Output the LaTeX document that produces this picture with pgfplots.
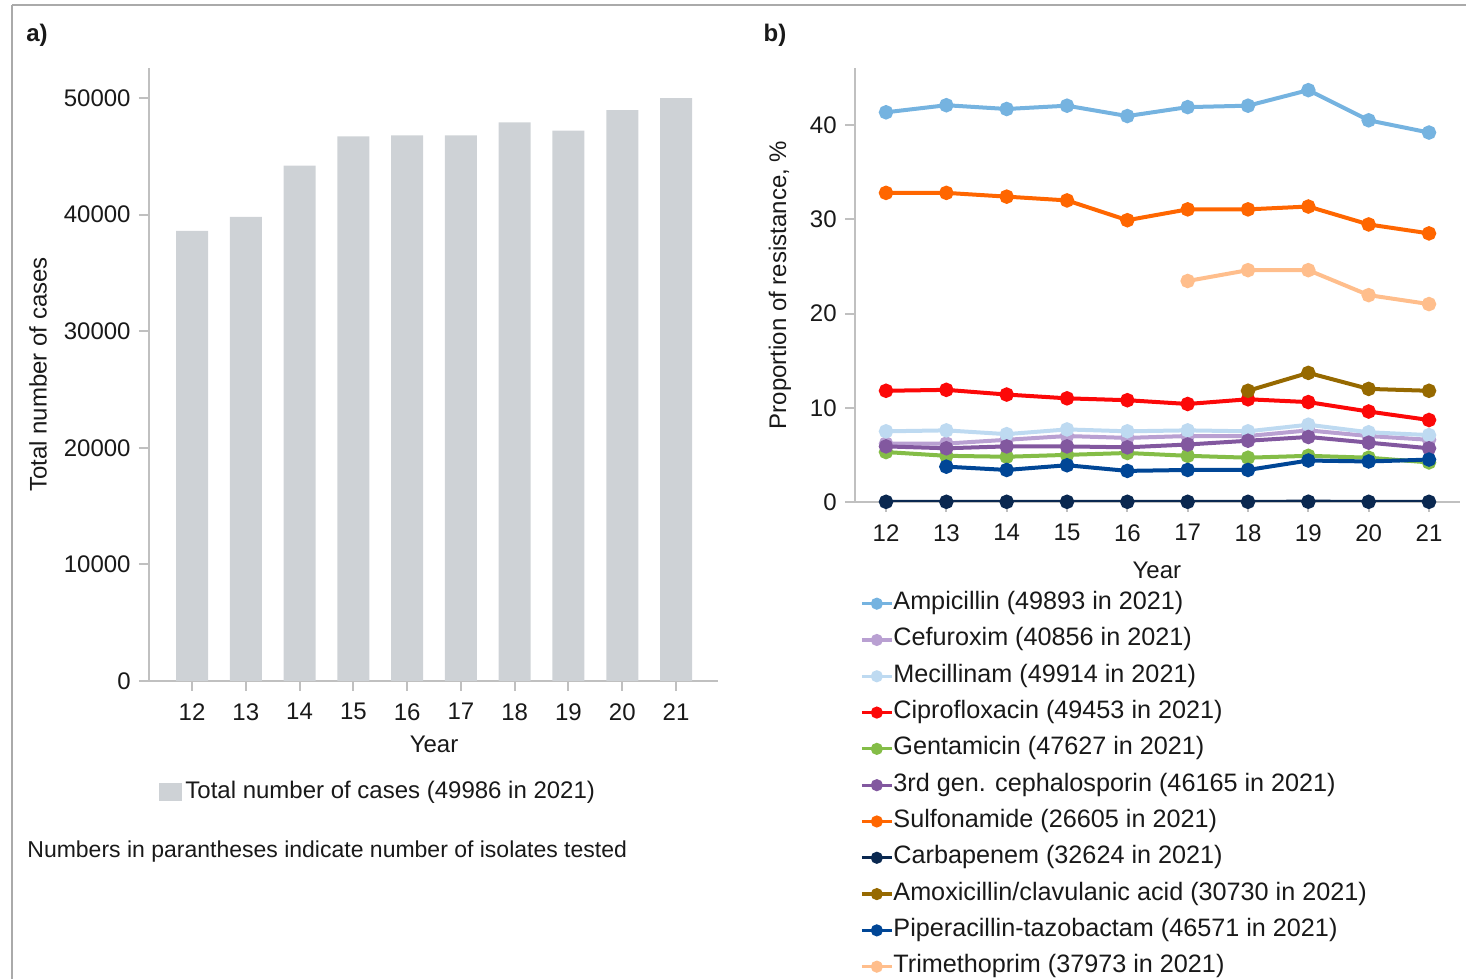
\documentclass[border=0pt]{standalone}
\usepackage{pgfplots}
\pgfplotsset{compat=1.18}
\usepackage{fontspec}
\setmainfont{Liberation Sans}
\definecolor{axgray}{RGB}{192,192,192}
\definecolor{framegray}{RGB}{170,170,170}
\definecolor{barcol}{RGB}{206,210,214}
\definecolor{cAmp}{RGB}{117,179,224}
\definecolor{cCef}{RGB}{185,160,210}
\definecolor{cMec}{RGB}{190,218,241}
\definecolor{cCip}{RGB}{252,8,8}
\definecolor{cGen}{RGB}{132,189,71}
\definecolor{cThird}{RGB}{130,88,159}
\definecolor{cSul}{RGB}{255,102,0}
\definecolor{cCar}{RGB}{10,40,80}
\definecolor{cAmo}{RGB}{150,105,0}
\definecolor{cPip}{RGB}{0,70,150}
\definecolor{cTri}{RGB}{255,190,140}
\definecolor{txt}{RGB}{25,25,25}
\pgfplotsset{common/.style={
  scale only axis,
  axis x line*=bottom, axis y line*=left,
  axis line style={axgray, line width=1pt},
  tick style={axgray, line width=1pt},
  major tick length=5pt, tick align=outside,
  /pgf/number format/assume math mode=true,
  tick label style={text=txt},
  xticklabel style={yshift=-2pt},
  label style={text=txt},
  legend cell align=left,
}}
\begin{document}
\fontsize{12}{14.4}\selectfont
\begin{tikzpicture}
\useasboundingbox (0,0) rectangle (733pt,489.5pt);
\draw[framegray, line width=1pt] (6pt,487pt) -- (733pt,487pt);
\draw[framegray, line width=1pt] (6pt,487pt) -- (6pt,0pt);
\node[font=\bfseries, text=txt] at (18.5pt,472pt) {a)};
\node[font=\bfseries, text=txt] at (387.5pt,472pt) {b)};
\node[anchor=west, text=txt, inner sep=0pt, font=\fontsize{11.5}{13.8}\selectfont] at (13.5pt,63.5pt) {Numbers in parantheses indicate number of isolates tested};

\begin{axis}[common,
  at={(74.5pt,149pt)}, anchor=south west,
  width=284.5pt, height=306.5pt,
  xmin=11.2, xmax=21.78, ymin=0, ymax=52570,
  xtick={12,...,21}, ytick={0,10000,...,50000},
  scaled y ticks=false,
  yticklabel style={/pgf/number format/.cd, fixed, set thousands separator={}},
  ylabel={Total number of cases}, xlabel={Year},
  ylabel style={at={(axis description cs:-0.195,0.5)}, anchor=center},
  xlabel style={at={(axis description cs:0.501,-0.104)}, anchor=center},
  legend style={at={(axis description cs:0.0176,-0.181)}, anchor=west,
    draw=none, fill=none, inner sep=0pt, nodes={inner sep=1.5pt, text=txt}},
]
\addplot[ybar, bar width=16pt, fill=barcol, draw=none,
  legend image code/.code={\fill[barcol] (0pt,-4.5pt) rectangle (11.5pt,4.5pt);}]
  coordinates {(12,38600) (13,39800) (14,44200) (15,46700) (16,46800)
               (17,46800) (18,47900) (19,47200) (20,48950) (21,49986)};
\addlegendentry{Total number of cases (49986 in 2021)}
\end{axis}

\begin{axis}[common,
  at={(427.5pt,238.5pt)}, anchor=south west,
  width=302.5pt, height=217pt,
  xmin=11.486, xmax=21.514, ymin=0, ymax=46.05,
  xtick={12,...,21}, ytick={0,10,...,40},
  ylabel={Proportion of resistance, \%}, xlabel={Year},
  ylabel style={at={(axis description cs:-0.124,0.5)}, anchor=center},
  xlabel style={at={(axis description cs:0.499,-0.157)}, anchor=center},
  every axis plot/.append style={line width=2pt, mark=*, mark size=2.6pt, mark options={solid}},
  legend image code/.code={\draw[#1, line width=1.6pt, mark size=2.2pt, mark repeat=2, mark phase=2] plot coordinates {(0pt,0pt) (7.5pt,0pt) (15pt,0pt)};},
  legend style={at={(axis description cs:0.008,-0.2057)}, anchor=north west,
    draw=none, fill=none, inner sep=0pt, row sep=6.15pt,
    font=\fontsize{12.6}{15}\selectfont,
    nodes={inner xsep=0pt, inner ysep=0pt, text height=9pt, text depth=3pt, text=txt}},
]
\addplot[cAmp] coordinates {(12,41.35) (13,42.1) (14,41.7) (15,42.05) (16,40.95) (17,41.9) (18,42.05) (19,43.7) (20,40.5) (21,39.2)};
\addlegendentry{Ampicillin (49893 in 2021)}
\addplot[cCef] coordinates {(12,6.2) (13,6.2) (14,6.6) (15,7.0) (16,6.8) (17,7.0) (18,7.0) (19,7.6) (20,7.0) (21,6.6)};
\addlegendentry{Cefuroxim (40856 in 2021)}
\addplot[cMec] coordinates {(12,7.5) (13,7.6) (14,7.2) (15,7.7) (16,7.5) (17,7.6) (18,7.5) (19,8.2) (20,7.4) (21,7.1)};
\addlegendentry{Mecillinam (49914 in 2021)}
\addplot[cCip] coordinates {(12,11.8) (13,11.9) (14,11.4) (15,11.0) (16,10.8) (17,10.4) (18,10.9) (19,10.6) (20,9.6) (21,8.7)};
\addlegendentry{Ciprofloxacin (49453 in 2021)}
\addplot[cGen] coordinates {(12,5.3) (13,4.9) (14,4.8) (15,5.0) (16,5.2) (17,4.9) (18,4.7) (19,4.9) (20,4.7) (21,4.2)};
\addlegendentry{Gentamicin (47627 in 2021)}
\addplot[cThird] coordinates {(12,5.9) (13,5.7) (14,5.9) (15,5.9) (16,5.8) (17,6.1) (18,6.5) (19,6.9) (20,6.3) (21,5.7)};
\addlegendentry{3rd gen. cephalosporin (46165 in 2021)}
\addplot[cSul] coordinates {(12,32.8) (13,32.8) (14,32.4) (15,32.0) (16,29.9) (17,31.05) (18,31.05) (19,31.35) (20,29.45) (21,28.5)};
\addlegendentry{Sulfonamide (26605 in 2021)}
\addplot[cCar] coordinates {(12,0.02) (13,0.02) (14,0.02) (15,0.02) (16,0.02) (17,0.02) (18,0.02) (19,0.03) (20,0.02) (21,0.02)};
\addlegendentry{Carbapenem (32624 in 2021)}
\addplot[cAmo] coordinates {(18,11.8) (19,13.7) (20,12.0) (21,11.8)};
\addlegendentry{Amoxicillin/clavulanic acid (30730 in 2021)}
\addplot[cPip] coordinates {(13,3.75) (14,3.4) (15,3.9) (16,3.3) (17,3.4) (18,3.4) (19,4.4) (20,4.3) (21,4.5)};
\addlegendentry{Piperacillin-tazobactam (46571 in 2021)}
\addplot[cTri] coordinates {(17,23.45) (18,24.6) (19,24.6) (20,21.95) (21,21.0)};
\addlegendentry{Trimethoprim (37973 in 2021)}
\end{axis}
\end{tikzpicture}
\end{document}
